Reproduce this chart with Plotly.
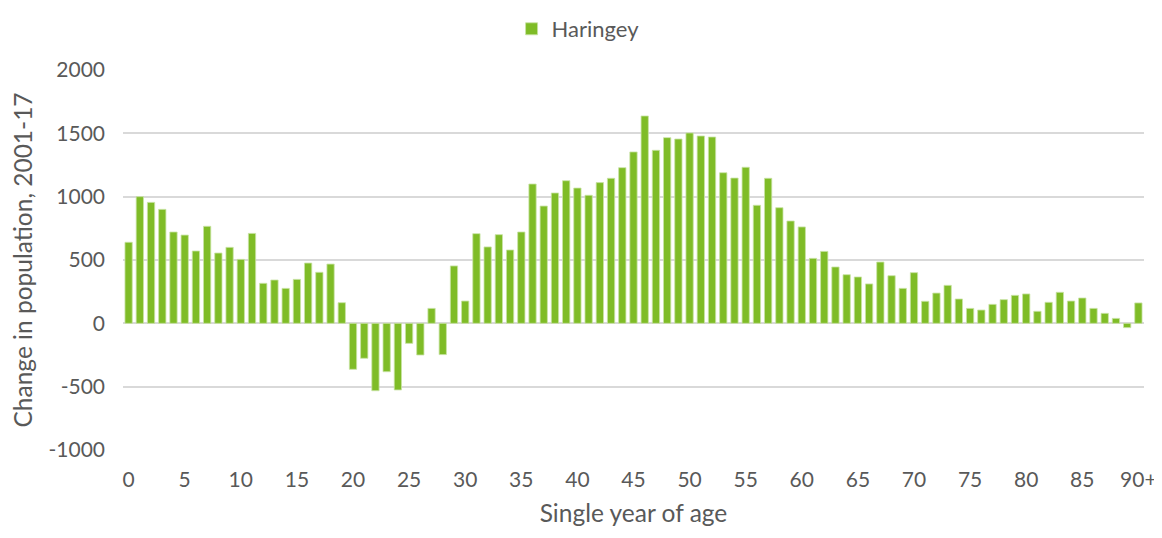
import plotly.graph_objects as go

ages = [str(i) for i in range(90)] + ["90+"]
change = [640, 1000, 955, 900, 721, 697, 571, 766, 555, 600,
          505, 710, 316, 342, 276, 347, 476, 403, 468, 163,
          -363, -276, -532, -382, -526, -158, -250, 118, -247, 453,
          176, 708, 603, 700, 579, 721, 1100, 926, 1029, 1126,
          1068, 1011, 1111, 1145, 1229, 1353, 1637, 1366, 1466, 1455,
          1503, 1479, 1471, 1189, 1147, 1232, 932, 1145, 913, 808,
          761, 513, 568, 445, 384, 366, 311, 484, 376, 276,
          400, 174, 239, 300, 192, 118, 105, 150, 187, 221,
          232, 95, 166, 245, 176, 200, 118, 79, 39, -34,
          161]
tick_labels = [str(i) for i in range(0, 90, 5)] + ["90+"]
y_tick_values = [-1000, -500, 0, 500, 1000, 1500, 2000]
y_tick_labels = ["-1000", "-500", "0", "500", "1000", "1500", "2000"]
series_name = "Haringey"

font_family = "Lato, Liberation Sans, Arial, sans-serif"
grey = "#595959"

fig = go.Figure()
fig.add_trace(go.Bar(
    x=ages, y=change, name=series_name,
    marker=dict(color="#7FBC27", line=dict(color="#C9E3A6", width=0.8)),
    showlegend=True,
))

# the page body adds an 8px offset; the figure is sized to fit the 1162x538 window
fig.update_layout(
    width=1154, height=530,
    margin=dict(l=115, r=18, t=62, b=88, autoexpand=False),
    paper_bgcolor="white", plot_bgcolor="white",
    bargap=0.35,
    font=dict(family=font_family, size=21, color=grey),
    legend=dict(orientation="h", xref="container", x=0.494, xanchor="center",
                yref="container", y=1.0, yanchor="top",
                font=dict(size=22, color=grey)),
    xaxis=dict(
        type="category", automargin=False,
        tickmode="array", tickvals=tick_labels, ticktext=tick_labels,
        showgrid=False, ticks="", showline=False,
        tickfont=dict(size=21, color=grey),
        ticklabelstandoff=15,
        title=dict(text="Single year of age", font=dict(size=24.5, color=grey), standoff=14),
    ),
    yaxis=dict(
        range=[-1000, 2000], automargin=False,
        tickmode="array", tickvals=y_tick_values, ticktext=y_tick_labels,
        showgrid=True, gridcolor="#D9D9D9", gridwidth=1.5,
        zeroline=True, zerolinecolor="#D9D9D9", zerolinewidth=1.5,
        ticks="", showline=False,
        tickfont=dict(size=21, color=grey),
        ticklabelstandoff=17,
        title=dict(text="Change in population, 2001-17", font=dict(size=24.5, color=grey), standoff=14),
    ),
)

fig.write_html("out.html")
